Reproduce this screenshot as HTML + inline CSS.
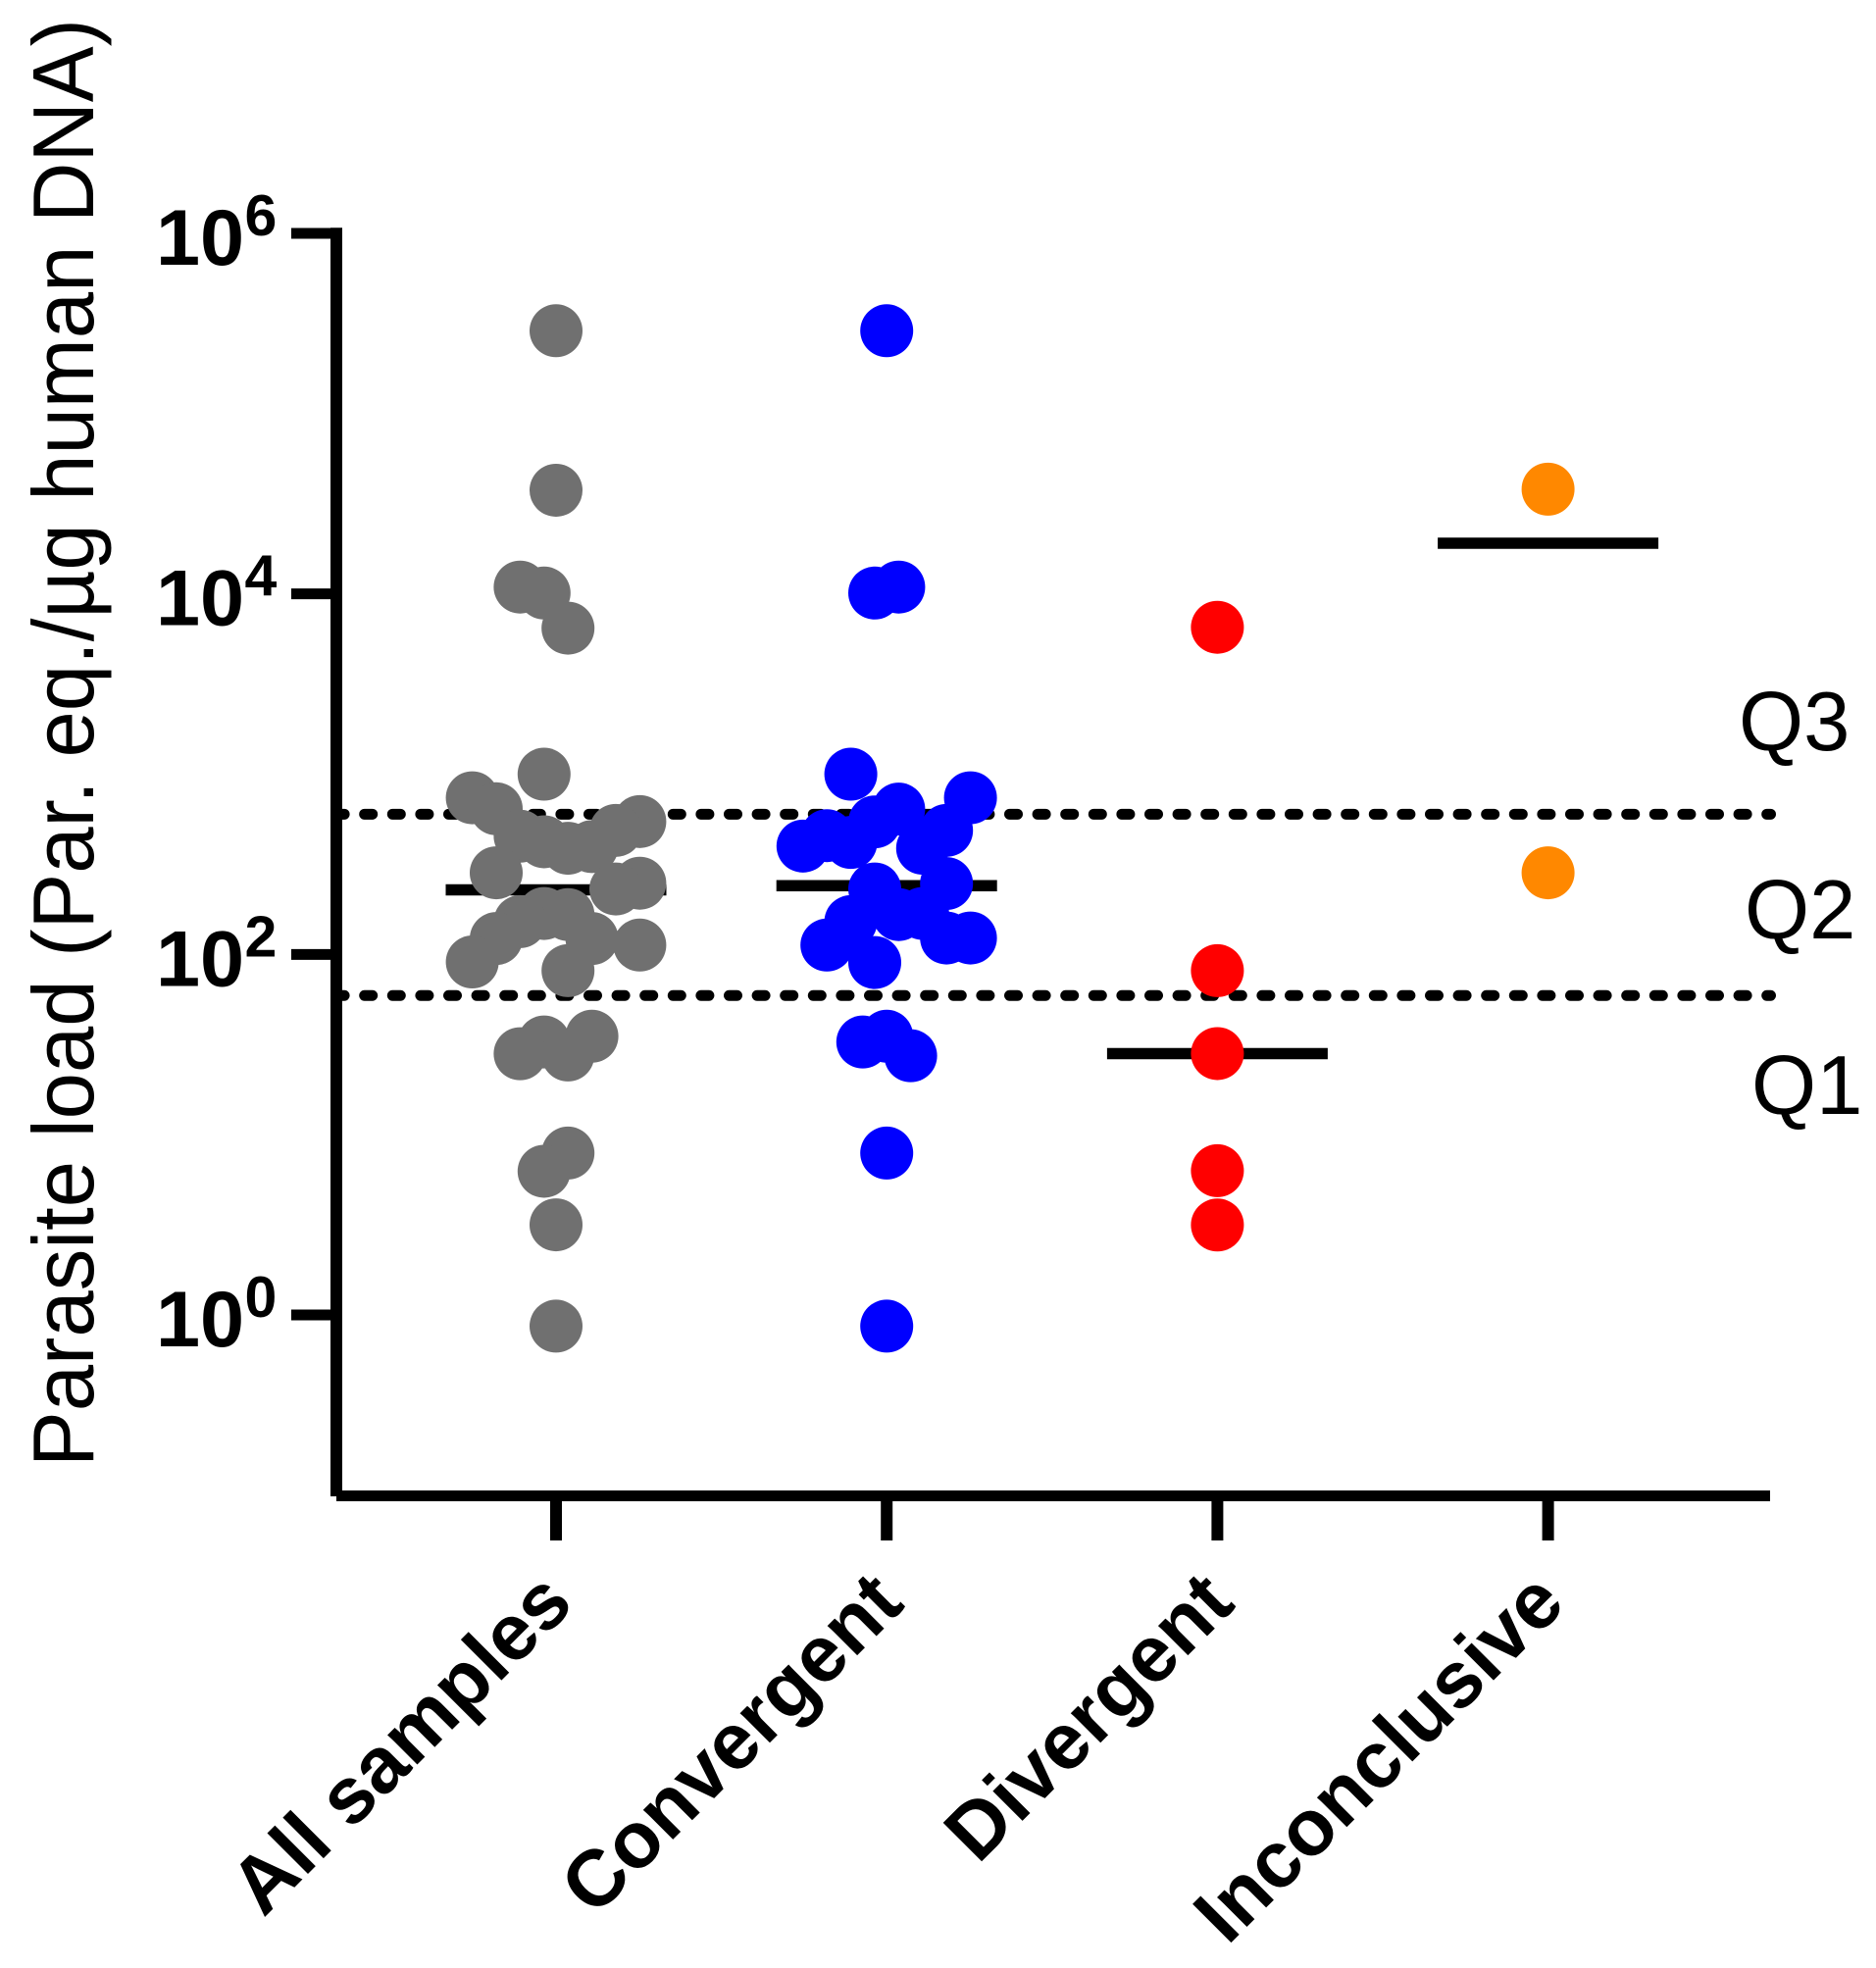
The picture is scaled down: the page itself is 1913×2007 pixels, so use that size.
<!DOCTYPE html>
<html lang="en">
<head>
<meta charset="utf-8">
<title>Parasite load by group</title>
<style>
html,body{margin:0;padding:0;background:#fff;width:1913px;height:2007px;overflow:hidden}
svg{display:block}
text{font-family:"Liberation Sans",Arial,sans-serif;fill:#000}
</style>
</head>
<body>
<svg id="chart" xmlns="http://www.w3.org/2000/svg" width="1913" height="2007" viewBox="0 0 1913 2007">
  <rect x="0" y="0" width="1913" height="2007" fill="#fff"/>
  <g id="reference-lines"></g>
  <g id="medians"></g>
  <g id="points"></g>
  <g id="axes"></g>
  <text transform="translate(95,1496) rotate(-90)" font-size="88" textLength="1477" lengthAdjust="spacingAndGlyphs">Parasite load (Par. eq./µg human DNA)</text>
  <g id="quartile-labels"></g>
</svg>
<script>
// Values are log10(parasite load); swarm slots are unitless half-marker steps.
const categories = ['All samples', 'Convergent', 'Divergent', 'Inconclusive'];
const categoryColors = ['#707070', '#0000ff', '#ff0000', '#ff8800'];
const yTickExponents = [0, 2, 4, 6];
const quartileNames = ['Q1', 'Q2', 'Q3'];
const quartileLog = [1.772, 2.778];

const allSamplesLog = [5.460,4.575,4.038,4.005,3.810,3.000,2.869,2.808,2.737,2.688,2.656,2.625,2.589,2.598,2.453,2.395,2.363,2.227,2.221,2.182,2.088,2.088,1.958,2.052,1.910,1.546,1.514,1.449,1.442,0.898,0.797,0.500,-0.062];
const allSamplesSlot = [0,0,-3,-1,1,-1,-7,-5,7,5,-3,-1,1,3,-5,7,5,-1,1,-3,-5,3,-7,7,1,3,-1,-3,1,1,-1,0,0];
const convergentLog = [5.460,4.005,4.038,3.000,2.869,2.806,2.735,2.659,2.621,2.601,2.688,2.589,2.393,2.363,2.182,2.052,2.221,2.227,2.091,2.091,1.955,1.514,1.546,1.438,0.898,-0.062];
const convergentSlot = [0,-1,1,-3,7,1,-1,-5,-3,-7,5,3,5,-1,-3,-5,1,3,5,7,-1,-2,0,2,0,0];
const divergentLog = [3.815,1.910,1.450,0.800,0.499];
const divergentSlot = [0,0,0,0,0];
const inconclusiveLog = [4.581,2.453];
const inconclusiveSlot = [0,0];
const medianLog = [2.358,2.381,1.450,4.281];

const seriesLog = [allSamplesLog, convergentLog, divergentLog, inconclusiveLog];
const seriesSlot = [allSamplesSlot, convergentSlot, divergentSlot, inconclusiveSlot];

const NS = 'http://www.w3.org/2000/svg';
const plot = {left: 343, right: 1805, bottom: 1525.5, top: 238};
function xScale(i) { return 567 + i * 337.2; }
function yScale(logValue) { return 1341 - logValue * 183.83; }
function slotScale(slot) { return slot * 12.2; }
function mk(tag, attrs, parent) {
  const el = document.createElementNS(NS, tag);
  for (const k in attrs) el.setAttribute(k, attrs[k]);
  parent.appendChild(el);
  return el;
}
const slug = s => s.toLowerCase().replace(/\s+/g, '-');

// quartile dotted lines
const refG = document.getElementById('reference-lines');
quartileLog.forEach((q, i) => {
  const y = yScale(q);
  const line = mk('line', {x1: 343.1, x2: 1805.5, y1: y, y2: y, stroke: '#000', 'stroke-width': 11, 'stroke-linecap': 'round', 'stroke-dasharray': '8 20.6'}, refG);
  
  
});

// medians
const medG = document.getElementById('medians');
medianLog.forEach((m, i) => {
  const y = yScale(m);
  const line = mk('line', {x1: xScale(i) - 112.5, x2: xScale(i) + 112.5, y1: y, y2: y, stroke: '#000', 'stroke-width': 11.5}, medG);
  
  
});

// points
const ptG = document.getElementById('points');
seriesLog.forEach((vals, i) => {
  vals.forEach((v, j) => {
    const c = mk('circle', {cx: xScale(i) + slotScale(seriesSlot[i][j]), cy: yScale(v), r: 27, fill: categoryColors[i]}, ptG);
    
    
  });
});

// axes
const axG = document.getElementById('axes');
const yAxis = mk('line', {x1: plot.left, x2: plot.left, y1: plot.top - 5.7, y2: plot.bottom + 0.5, stroke: '#000', 'stroke-width': 12}, axG);


const xAxis = mk('line', {x1: plot.left, x2: plot.right, y1: plot.bottom, y2: plot.bottom, stroke: '#000', 'stroke-width': 11}, axG);



yTickExponents.forEach(e => {
  const y = yScale(e);
  const t = mk('line', {x1: 297, x2: plot.left, y1: y, y2: y, stroke: '#000', 'stroke-width': 11}, axG);
  
  
  const base = mk('text', {x: 159, y: y + 32, 'font-size': 81, 'font-weight': 'bold'}, axG);
  base.textContent = '10';
  
  
  const sup = mk('text', {x: 249.5, y: y + 2, 'font-size': 59, 'font-weight': 'bold'}, axG);
  sup.textContent = String(e);
  
  
});

categories.forEach((name, i) => {
  const x = xScale(i);
  const t = mk('line', {x1: x, x2: x, y1: 1531, y2: 1571, stroke: '#000', 'stroke-width': 12}, axG);
  
  
  const lab = mk('text', {transform: 'translate(' + (x + 20) + ',1638) rotate(-45)', 'text-anchor': 'end', 'font-size': 81, 'font-weight': 'bold'}, axG);
  lab.textContent = name;
  
  
});

// Quartile labels
const qG = document.getElementById('quartile-labels');
const qLabelRows = [[1786, 1136], [1779, 957], [1773, 765]];
quartileNames.forEach((name, i) => {
  const q = mk('text', {x: qLabelRows[i][0], y: qLabelRows[i][1], 'font-size': 85}, qG);
  q.textContent = name;
  
  
});
</script>
</body>
</html>
